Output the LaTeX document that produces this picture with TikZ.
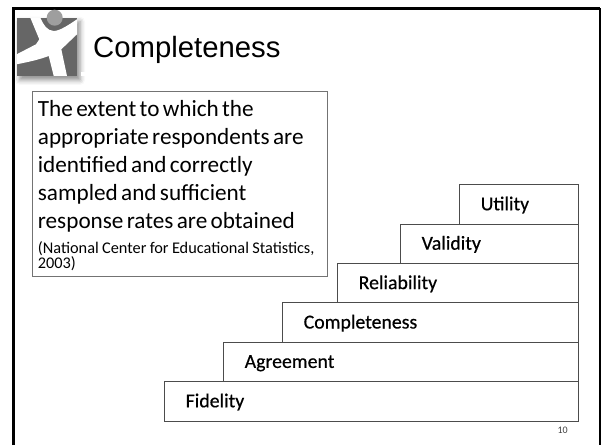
\documentclass[tikz,border=0pt]{standalone}
\usepackage{fontspec}
\setmainfont{Carlito}
\newfontfamily\titlefont{Liberation Sans}
\newfontfamily\stepfont[FakeBold=0.5]{Carlito}
\usetikzlibrary{positioning,shadows.blur}

\begin{document}
\begin{tikzpicture}[
    x=1pt,y=1pt,
    frameline/.style={draw=black,line width=#1},
    stepbox/.style={draw=black!70,line width=0.8pt,rectangle,anchor=south east,align=left,minimum height=39.4pt,text height=15pt,text depth=3pt,inner xsep=21pt,inner ysep=0pt,outer sep=0pt,font=\stepfont\fontsize{19.8}{22}\selectfont},
    textbox/.style={draw=black!55,line width=0.8pt,rectangle,anchor=north west,align=left,inner xsep=5.5pt,inner ysep=3pt,text width=284pt,minimum height=185pt}
    ]
  \useasboundingbox (0,0) rectangle (602,445);

  % slide frame
  \coordinate(frameBL) at (13.5,0);
  \coordinate(frameTL) at (13.5,436.5);
  \coordinate(frameTR) at (600,436.5);
  \coordinate(frameBR) at (600,0);
  \draw[frameline=2.6pt] (frameBL) -- (frameTL) -- (frameTR);
  \draw[frameline=1.2pt] (frameTR) -- (frameBR);

  % logo
  \fill[black!60,blur shadow={shadow xshift=3pt,shadow yshift=-4pt,shadow blur radius=5pt,shadow opacity=45}] (16.7,369) rectangle (77,427.3);
  \fill[white] (30.3,427.3) -- (40.3,427.3) .. controls (43,421) and (47,414) .. (53.7,414)
    .. controls (60,414) and (70,421) .. (77,425.7) -- (77,410.7) -- (61.3,395.7) -- (67,369) -- (53.7,369)
    -- (48.7,389) .. controls (38,385) and (28,383) .. (16.7,380.7) -- (16.7,390.7) -- (36,400.7) -- (39.3,405.7) -- cycle;
  \fill[black!38] (54.7,427.3) circle (8);
  \fill[white] (81,369) rectangle (87,373);

  \node(title) [anchor=west,inner sep=0pt] at (93,395) {\titlefont\fontsize{29.3}{32}\selectfont Completeness};

  % definition
  \node(definition) [textbox] at (32,354) {\fontsize{23.2}{28}\selectfont \rule{0pt}{19.5pt}The extent to which the\\ appropriate respondents are\\ identified and correctly\\ sampled and sufficient\\ response rates are obtained\\[7pt]
    \fontsize{16.3}{18}\selectfont (National Center for Educational Statistics,\\ 2003)};

  % steps
  \coordinate(corner) at (578.7,24);
  \node(fidelity) [stepbox,text width=372pt] at (corner) {Fidelity};
  \node(agreement) [stepbox,text width=313pt,above=0pt of fidelity.north east,anchor=south east] {Agreement};
  \node(completeness) [stepbox,text width=254pt,above=0pt of agreement.north east,anchor=south east] {Completeness};
  \node(reliability) [stepbox,text width=199pt,above=0pt of completeness.north east,anchor=south east] {Reliability};
  \node(validity) [stepbox,text width=136pt,above=0pt of reliability.north east,anchor=south east] {Validity};
  \node(utility) [stepbox,text width=77pt,above=0pt of validity.north east,anchor=south east] {Utility};

  \node(pagenum) [anchor=east,inner sep=0pt,font=\fontsize{10}{12}\selectfont,text=black!75] at (568,15) {10};
\end{tikzpicture}
\end{document}
